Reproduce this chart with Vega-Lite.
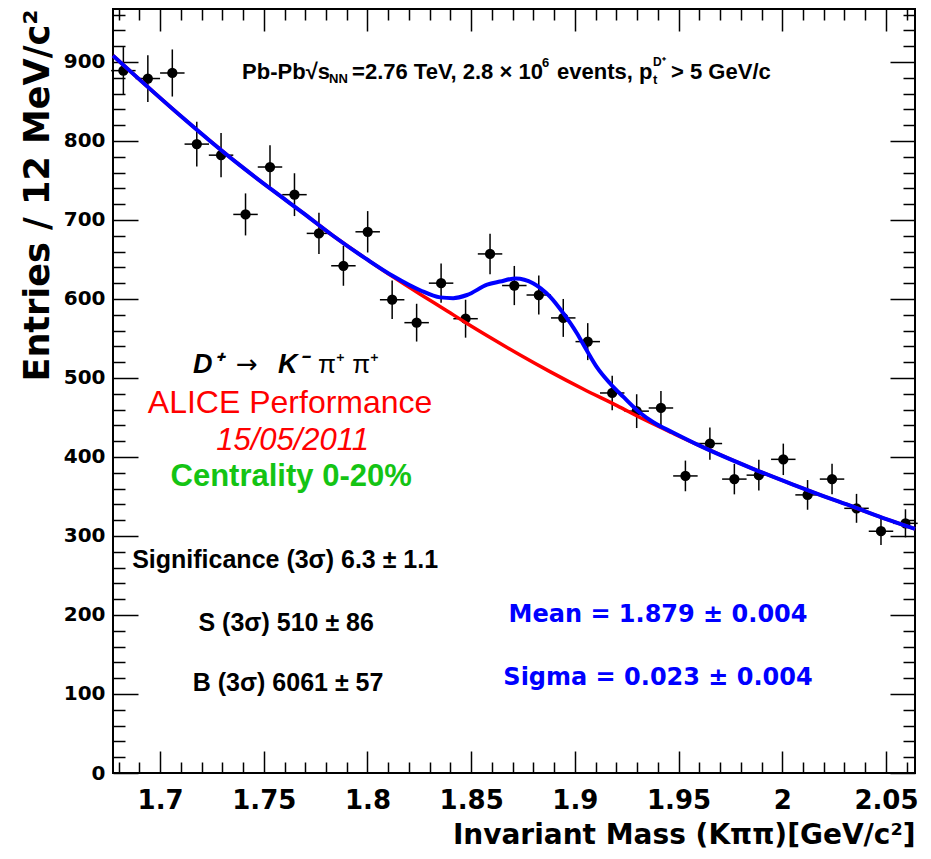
{
  "$schema": "https://vega.github.io/schema/vega-lite/v6.json",
  "width": 802,
  "height": 764,
  "autosize": "none",
  "padding": {"left": 113, "top": 9, "right": 16, "bottom": 86},
  "background": "white",
  "config": {
    "view": {"stroke": "black", "strokeWidth": 2},
    "axis": {"grid": false, "domain": false, "tickColor": "black", "tickWidth": 1.5, "labelColor": "black", "titleColor": "black", "labelFont": "DejaVu Sans", "labelFontWeight": "bold", "titleFont": "DejaVu Sans", "titleFontWeight": "bold", "labelFlush": false, "labelOverlap": false}
  },
  "datasets": {
    "hist": [
      {"m": 1.6823, "n": 889, "ey": 29.8, "ex": 0.0059},
      {"m": 1.6941, "n": 879, "ey": 29.6, "ex": 0.0059},
      {"m": 1.7059, "n": 886, "ey": 29.8, "ex": 0.0059},
      {"m": 1.7177, "n": 796, "ey": 28.2, "ex": 0.0059},
      {"m": 1.7294, "n": 782, "ey": 28.0, "ex": 0.0059},
      {"m": 1.7412, "n": 707, "ey": 26.6, "ex": 0.0059},
      {"m": 1.7530, "n": 767, "ey": 27.7, "ex": 0.0059},
      {"m": 1.7648, "n": 732, "ey": 27.1, "ex": 0.0059},
      {"m": 1.7766, "n": 683, "ey": 26.1, "ex": 0.0059},
      {"m": 1.7884, "n": 642, "ey": 25.3, "ex": 0.0059},
      {"m": 1.8001, "n": 685, "ey": 26.2, "ex": 0.0059},
      {"m": 1.8119, "n": 599, "ey": 24.5, "ex": 0.0059},
      {"m": 1.8237, "n": 570, "ey": 23.9, "ex": 0.0059},
      {"m": 1.8355, "n": 620, "ey": 24.9, "ex": 0.0059},
      {"m": 1.8473, "n": 575, "ey": 24.0, "ex": 0.0059},
      {"m": 1.8591, "n": 657, "ey": 25.6, "ex": 0.0059},
      {"m": 1.8708, "n": 617, "ey": 24.8, "ex": 0.0059},
      {"m": 1.8826, "n": 605, "ey": 24.6, "ex": 0.0059},
      {"m": 1.8944, "n": 576, "ey": 24.0, "ex": 0.0059},
      {"m": 1.9062, "n": 546, "ey": 23.4, "ex": 0.0059},
      {"m": 1.9180, "n": 481, "ey": 21.9, "ex": 0.0059},
      {"m": 1.9298, "n": 458, "ey": 21.4, "ex": 0.0059},
      {"m": 1.9415, "n": 462, "ey": 21.5, "ex": 0.0059},
      {"m": 1.9533, "n": 376, "ey": 19.4, "ex": 0.0059},
      {"m": 1.9651, "n": 417, "ey": 20.4, "ex": 0.0059},
      {"m": 1.9769, "n": 372, "ey": 19.3, "ex": 0.0059},
      {"m": 1.9887, "n": 377, "ey": 19.4, "ex": 0.0059},
      {"m": 2.0005, "n": 397, "ey": 19.9, "ex": 0.0059},
      {"m": 2.0122, "n": 352, "ey": 18.8, "ex": 0.0059},
      {"m": 2.0240, "n": 372, "ey": 19.3, "ex": 0.0059},
      {"m": 2.0358, "n": 335, "ey": 18.3, "ex": 0.0059},
      {"m": 2.0476, "n": 306, "ey": 17.5, "ex": 0.0059},
      {"m": 2.0594, "n": 316, "ey": 17.8, "ex": 0.0059}
    ],
    "curves": [
      {"m": 1.6773, "n": 908, "c": "bg"},
      {"m": 1.7111, "n": 829, "c": "bg"},
      {"m": 1.7241, "n": 800, "c": "bg"},
      {"m": 1.7386, "n": 769, "c": "bg"},
      {"m": 1.7545, "n": 737, "c": "bg"},
      {"m": 1.7689, "n": 709, "c": "bg"},
      {"m": 1.7834, "n": 680, "c": "bg"},
      {"m": 1.7998, "n": 650, "c": "bg"},
      {"m": 1.8123, "n": 628, "c": "bg"},
      {"m": 1.8254, "n": 606, "c": "bg"},
      {"m": 1.8365, "n": 588, "c": "bg"},
      {"m": 1.8480, "n": 569, "c": "bg"},
      {"m": 1.8606, "n": 549, "c": "bg"},
      {"m": 1.8736, "n": 529, "c": "bg"},
      {"m": 1.8880, "n": 508, "c": "bg"},
      {"m": 1.9040, "n": 486, "c": "bg"},
      {"m": 1.9203, "n": 465, "c": "bg"},
      {"m": 1.9329, "n": 448, "c": "bg"},
      {"m": 1.9473, "n": 430, "c": "bg"},
      {"m": 1.9604, "n": 414, "c": "bg"},
      {"m": 1.9859, "n": 385, "c": "bg"},
      {"m": 2.0052, "n": 365, "c": "bg"},
      {"m": 2.0182, "n": 352, "c": "bg"},
      {"m": 2.0341, "n": 337, "c": "bg"},
      {"m": 2.0505, "n": 321, "c": "bg"},
      {"m": 2.0640, "n": 309, "c": "bg"},
      {"m": 1.6773, "n": 908, "c": "tot"},
      {"m": 1.7111, "n": 829, "c": "tot"},
      {"m": 1.7241, "n": 800, "c": "tot"},
      {"m": 1.7386, "n": 769, "c": "tot"},
      {"m": 1.7545, "n": 737, "c": "tot"},
      {"m": 1.7689, "n": 709, "c": "tot"},
      {"m": 1.7834, "n": 680, "c": "tot"},
      {"m": 1.7998, "n": 650, "c": "tot"},
      {"m": 1.8123, "n": 629, "c": "tot"},
      {"m": 1.8254, "n": 611, "c": "tot"},
      {"m": 1.8350, "n": 602, "c": "tot"},
      {"m": 1.8413, "n": 601, "c": "tot"},
      {"m": 1.8480, "n": 605, "c": "tot"},
      {"m": 1.8577, "n": 618, "c": "tot"},
      {"m": 1.8639, "n": 622, "c": "tot"},
      {"m": 1.8716, "n": 626, "c": "tot"},
      {"m": 1.8798, "n": 620, "c": "tot"},
      {"m": 1.8880, "n": 603, "c": "tot"},
      {"m": 1.8944, "n": 582, "c": "tot"},
      {"m": 1.9009, "n": 557, "c": "tot"},
      {"m": 1.9057, "n": 535, "c": "tot"},
      {"m": 1.9105, "n": 514, "c": "tot"},
      {"m": 1.9170, "n": 493, "c": "tot"},
      {"m": 1.9234, "n": 476, "c": "tot"},
      {"m": 1.9314, "n": 456, "c": "tot"},
      {"m": 1.9378, "n": 444, "c": "tot"},
      {"m": 1.9473, "n": 431, "c": "tot"},
      {"m": 1.9604, "n": 414, "c": "tot"},
      {"m": 1.9859, "n": 385, "c": "tot"},
      {"m": 2.0052, "n": 365, "c": "tot"},
      {"m": 2.0182, "n": 352, "c": "tot"},
      {"m": 2.0341, "n": 337, "c": "tot"},
      {"m": 2.0505, "n": 321, "c": "tot"},
      {"m": 2.0640, "n": 309, "c": "tot"}
    ],
    "one": [{}]
  },
  "resolve": {"axis": {"x": "independent", "y": "independent"}},
  "layer": [
    {
      "data": {"name": "hist"},
      "mark": {"type": "errorbar", "ticks": false, "color": "black", "thickness": 1.5},
      "encoding": {
        "x": {"field": "m", "type": "quantitative", "scale": {"domain": [1.6773, 2.064], "nice": false, "zero": false},
          "axis": {"orient": "bottom", "values": [1.7, 1.75, 1.8, 1.85, 1.9, 1.95, 2, 2.05], "format": "~g", "tickSize": -22, "labelFontSize": 26, "labelPadding": 36, "title": "Invariant Mass (Kππ)[GeV/c²]", "titleFontSize": 28, "titleAnchor": "end", "titlePadding": 8}},
        "y": {"field": "n", "type": "quantitative", "scale": {"domain": [0, 967], "nice": false, "zero": true},
          "axis": {"orient": "left", "values": [0, 100, 200, 300, 400, 500, 600, 700, 800, 900], "tickSize": -25, "labelFontSize": 20, "labelPadding": 33, "title": "Entries / 12 MeV/c²", "titleFontSize": 35, "titleAnchor": "end", "titlePadding": 8}},
        "yError": {"field": "ey"}
      }
    },
    {
      "data": {"name": "hist"},
      "mark": {"type": "errorbar", "ticks": false, "color": "black", "thickness": 1.5},
      "encoding": {
        "x": {"field": "m", "type": "quantitative", "scale": {"domain": [1.6773, 2.064], "nice": false, "zero": false},
          "axis": {"orient": "bottom", "values": [1.68, 1.69, 1.71, 1.72, 1.73, 1.74, 1.76, 1.77, 1.78, 1.79, 1.81, 1.82, 1.83, 1.84, 1.86, 1.87, 1.88, 1.89, 1.91, 1.92, 1.93, 1.94, 1.96, 1.97, 1.98, 1.99, 2.01, 2.02, 2.03, 2.04, 2.06], "tickSize": -11, "labels": false, "title": null}},
        "xError": {"field": "ex"},
        "y": {"field": "n", "type": "quantitative", "scale": {"domain": [0, 967], "nice": false, "zero": true},
          "axis": {"orient": "left", "values": [20, 40, 60, 80, 120, 140, 160, 180, 220, 240, 260, 280, 320, 340, 360, 380, 420, 440, 460, 480, 520, 540, 560, 580, 620, 640, 660, 680, 720, 740, 760, 780, 820, 840, 860, 880, 920, 940, 960], "tickSize": -12, "labels": false, "title": null}}
      }
    },
    {
      "data": {"name": "hist"},
      "mark": {"type": "circle", "color": "black", "size": 105, "opacity": 1},
      "encoding": {
        "x": {"field": "m", "type": "quantitative", "scale": {"domain": [1.6773, 2.064], "nice": false, "zero": false},
          "axis": {"orient": "top", "values": [1.7, 1.75, 1.8, 1.85, 1.9, 1.95, 2, 2.05], "tickSize": -22, "labels": false, "title": null}},
        "y": {"field": "n", "type": "quantitative", "scale": {"domain": [0, 967], "nice": false, "zero": true},
          "axis": {"orient": "right", "values": [0, 100, 200, 300, 400, 500, 600, 700, 800, 900], "tickSize": -25, "labels": false, "title": null}}
      }
    },
    {
      "data": {"name": "curves"},
      "transform": [{"filter": "datum.c === 'bg'"}],
      "mark": {"type": "line", "color": "#ff0000", "strokeWidth": 3.5, "interpolate": "monotone"},
      "encoding": {
        "x": {"field": "m", "type": "quantitative", "scale": {"domain": [1.6773, 2.064], "nice": false, "zero": false},
          "axis": {"orient": "top", "values": [1.68, 1.69, 1.71, 1.72, 1.73, 1.74, 1.76, 1.77, 1.78, 1.79, 1.81, 1.82, 1.83, 1.84, 1.86, 1.87, 1.88, 1.89, 1.91, 1.92, 1.93, 1.94, 1.96, 1.97, 1.98, 1.99, 2.01, 2.02, 2.03, 2.04, 2.06], "tickSize": -11, "labels": false, "title": null}},
        "y": {"field": "n", "type": "quantitative", "scale": {"domain": [0, 967], "nice": false, "zero": true},
          "axis": {"orient": "right", "values": [20, 40, 60, 80, 120, 140, 160, 180, 220, 240, 260, 280, 320, 340, 360, 380, 420, 440, 460, 480, 520, 540, 560, 580, 620, 640, 660, 680, 720, 740, 760, 780, 820, 840, 860, 880, 920, 940, 960], "tickSize": -12, "labels": false, "title": null}}
      }
    },
    {
      "data": {"name": "curves"},
      "transform": [{"filter": "datum.c === 'tot'"}],
      "mark": {"type": "line", "color": "#0000ff", "strokeWidth": 4, "interpolate": "monotone"},
      "encoding": {
        "x": {"field": "m", "type": "quantitative", "scale": {"domain": [1.6773, 2.064], "nice": false, "zero": false}, "axis": null},
        "y": {"field": "n", "type": "quantitative", "scale": {"domain": [0, 967], "nice": false, "zero": true}, "axis": null}
      }
    },
    {
      "data": {"name": "one"},
      "mark": {"type": "text", "align": "left", "baseline": "middle", "font": "Liberation Sans", "fontWeight": "bold", "fontSize": 22, "color": "black"},
      "encoding": {"x": {"datum": 1.73954, "type": "quantitative", "axis": null}, "y": {"datum": 887, "type": "quantitative", "axis": null}, "text": {"value": "Pb-Pb√s"}}
    },
    {
      "data": {"name": "one"},
      "mark": {"type": "text", "align": "left", "baseline": "middle", "font": "Liberation Sans", "fontWeight": "bold", "fontSize": 13, "color": "black"},
      "encoding": {"x": {"datum": 1.78149, "type": "quantitative", "axis": null}, "y": {"datum": 878, "type": "quantitative", "axis": null}, "text": {"value": "NN"}}
    },
    {
      "data": {"name": "one"},
      "mark": {"type": "text", "align": "left", "baseline": "middle", "font": "Liberation Sans", "fontWeight": "bold", "fontSize": 22, "color": "black"},
      "encoding": {"x": {"datum": 1.79257, "type": "quantitative", "axis": null}, "y": {"datum": 887, "type": "quantitative", "axis": null}, "text": {"value": "=2.76 TeV, 2.8 × 10"}}
    },
    {
      "data": {"name": "one"},
      "mark": {"type": "text", "align": "left", "baseline": "middle", "font": "Liberation Sans", "fontWeight": "bold", "fontSize": 13, "color": "black"},
      "encoding": {"x": {"datum": 1.88418, "type": "quantitative", "axis": null}, "y": {"datum": 899, "type": "quantitative", "axis": null}, "text": {"value": "6"}}
    },
    {
      "data": {"name": "one"},
      "mark": {"type": "text", "align": "left", "baseline": "middle", "font": "Liberation Sans", "fontWeight": "bold", "fontSize": 22, "color": "black"},
      "encoding": {"x": {"datum": 1.89142, "type": "quantitative", "axis": null}, "y": {"datum": 887, "type": "quantitative", "axis": null}, "text": {"value": "events, p"}}
    },
    {
      "data": {"name": "one"},
      "mark": {"type": "text", "align": "left", "baseline": "middle", "font": "Liberation Sans", "fontWeight": "bold", "fontSize": 13, "color": "black"},
      "encoding": {"x": {"datum": 1.93771, "type": "quantitative", "axis": null}, "y": {"datum": 877, "type": "quantitative", "axis": null}, "text": {"value": "t"}}
    },
    {
      "data": {"name": "one"},
      "mark": {"type": "text", "align": "left", "baseline": "middle", "font": "Liberation Sans", "fontWeight": "bold", "fontSize": 12, "color": "black"},
      "encoding": {"x": {"datum": 1.93771, "type": "quantitative", "axis": null}, "y": {"datum": 900, "type": "quantitative", "axis": null}, "text": {"value": "D⁺"}}
    },
    {
      "data": {"name": "one"},
      "mark": {"type": "text", "align": "left", "baseline": "middle", "font": "Liberation Sans", "fontWeight": "bold", "fontSize": 22, "color": "black"},
      "encoding": {"x": {"datum": 1.94638, "type": "quantitative", "axis": null}, "y": {"datum": 887, "type": "quantitative", "axis": null}, "text": {"value": "> 5 GeV/c"}}
    },
    {
      "data": {"name": "one"},
      "mark": {"type": "text", "align": "left", "baseline": "middle", "font": "Liberation Sans", "fontWeight": "bold", "fontStyle": "italic", "fontSize": 27, "color": "black"},
      "encoding": {"x": {"datum": 1.71591, "type": "quantitative", "axis": null}, "y": {"datum": 516, "type": "quantitative", "axis": null}, "text": {"value": "D⁺"}}
    },
    {
      "data": {"name": "one"},
      "mark": {"type": "text", "align": "left", "baseline": "middle", "font": "DejaVu Sans", "fontSize": 26, "color": "black"},
      "encoding": {"x": {"datum": 1.73664, "type": "quantitative", "axis": null}, "y": {"datum": 516, "type": "quantitative", "axis": null}, "text": {"value": "→"}}
    },
    {
      "data": {"name": "one"},
      "mark": {"type": "text", "align": "left", "baseline": "middle", "font": "Liberation Sans", "fontWeight": "bold", "fontStyle": "italic", "fontSize": 27, "color": "black"},
      "encoding": {"x": {"datum": 1.7569, "type": "quantitative", "axis": null}, "y": {"datum": 516, "type": "quantitative", "axis": null}, "text": {"value": "K⁻"}}
    },
    {
      "data": {"name": "one"},
      "mark": {"type": "text", "align": "left", "baseline": "middle", "font": "Liberation Sans", "fontSize": 26, "color": "black"},
      "encoding": {"x": {"datum": 1.77618, "type": "quantitative", "axis": null}, "y": {"datum": 516, "type": "quantitative", "axis": null}, "text": {"value": "π⁺ π⁺"}}
    },
    {
      "data": {"name": "one"},
      "mark": {"type": "text", "align": "center", "baseline": "middle", "font": "Liberation Sans", "fontSize": 32, "color": "#ff0000"},
      "encoding": {"x": {"datum": 1.7627, "type": "quantitative", "axis": null}, "y": {"datum": 468, "type": "quantitative", "axis": null}, "text": {"value": "ALICE Performance"}}
    },
    {
      "data": {"name": "one"},
      "mark": {"type": "text", "align": "center", "baseline": "middle", "font": "Liberation Sans", "fontStyle": "italic", "fontSize": 31, "color": "#ff0000"},
      "encoding": {"x": {"datum": 1.7639, "type": "quantitative", "axis": null}, "y": {"datum": 420, "type": "quantitative", "axis": null}, "text": {"value": "15/05/2011"}}
    },
    {
      "data": {"name": "one"},
      "mark": {"type": "text", "align": "center", "baseline": "middle", "font": "Liberation Sans", "fontWeight": "bold", "fontSize": 31, "color": "#14c414"},
      "encoding": {"x": {"datum": 1.7632, "type": "quantitative", "axis": null}, "y": {"datum": 375, "type": "quantitative", "axis": null}, "text": {"value": "Centrality 0-20%"}}
    },
    {
      "data": {"name": "one"},
      "mark": {"type": "text", "align": "center", "baseline": "middle", "font": "Liberation Sans", "fontWeight": "bold", "fontSize": 25, "color": "black"},
      "encoding": {"x": {"datum": 1.7603, "type": "quantitative", "axis": null}, "y": {"datum": 270, "type": "quantitative", "axis": null}, "text": {"value": "Significance (3σ) 6.3 ± 1.1"}}
    },
    {
      "data": {"name": "one"},
      "mark": {"type": "text", "align": "center", "baseline": "middle", "font": "Liberation Sans", "fontWeight": "bold", "fontSize": 25, "color": "black"},
      "encoding": {"x": {"datum": 1.7608, "type": "quantitative", "axis": null}, "y": {"datum": 190, "type": "quantitative", "axis": null}, "text": {"value": "S (3σ) 510 ± 86"}}
    },
    {
      "data": {"name": "one"},
      "mark": {"type": "text", "align": "center", "baseline": "middle", "font": "Liberation Sans", "fontWeight": "bold", "fontSize": 25, "color": "black"},
      "encoding": {"x": {"datum": 1.7617, "type": "quantitative", "axis": null}, "y": {"datum": 114, "type": "quantitative", "axis": null}, "text": {"value": "B (3σ) 6061 ± 57"}}
    },
    {
      "data": {"name": "one"},
      "mark": {"type": "text", "align": "center", "baseline": "middle", "font": "DejaVu Sans", "fontWeight": "bold", "fontSize": 24, "color": "#0000ff"},
      "encoding": {"x": {"datum": 1.9401, "type": "quantitative", "axis": null}, "y": {"datum": 200, "type": "quantitative", "axis": null}, "text": {"value": "Mean = 1.879 ± 0.004"}}
    },
    {
      "data": {"name": "one"},
      "mark": {"type": "text", "align": "center", "baseline": "middle", "font": "DejaVu Sans", "fontWeight": "bold", "fontSize": 24, "color": "#0000ff"},
      "encoding": {"x": {"datum": 1.9401, "type": "quantitative", "axis": null}, "y": {"datum": 120, "type": "quantitative", "axis": null}, "text": {"value": "Sigma = 0.023 ± 0.004"}}
    }
  ]
}
